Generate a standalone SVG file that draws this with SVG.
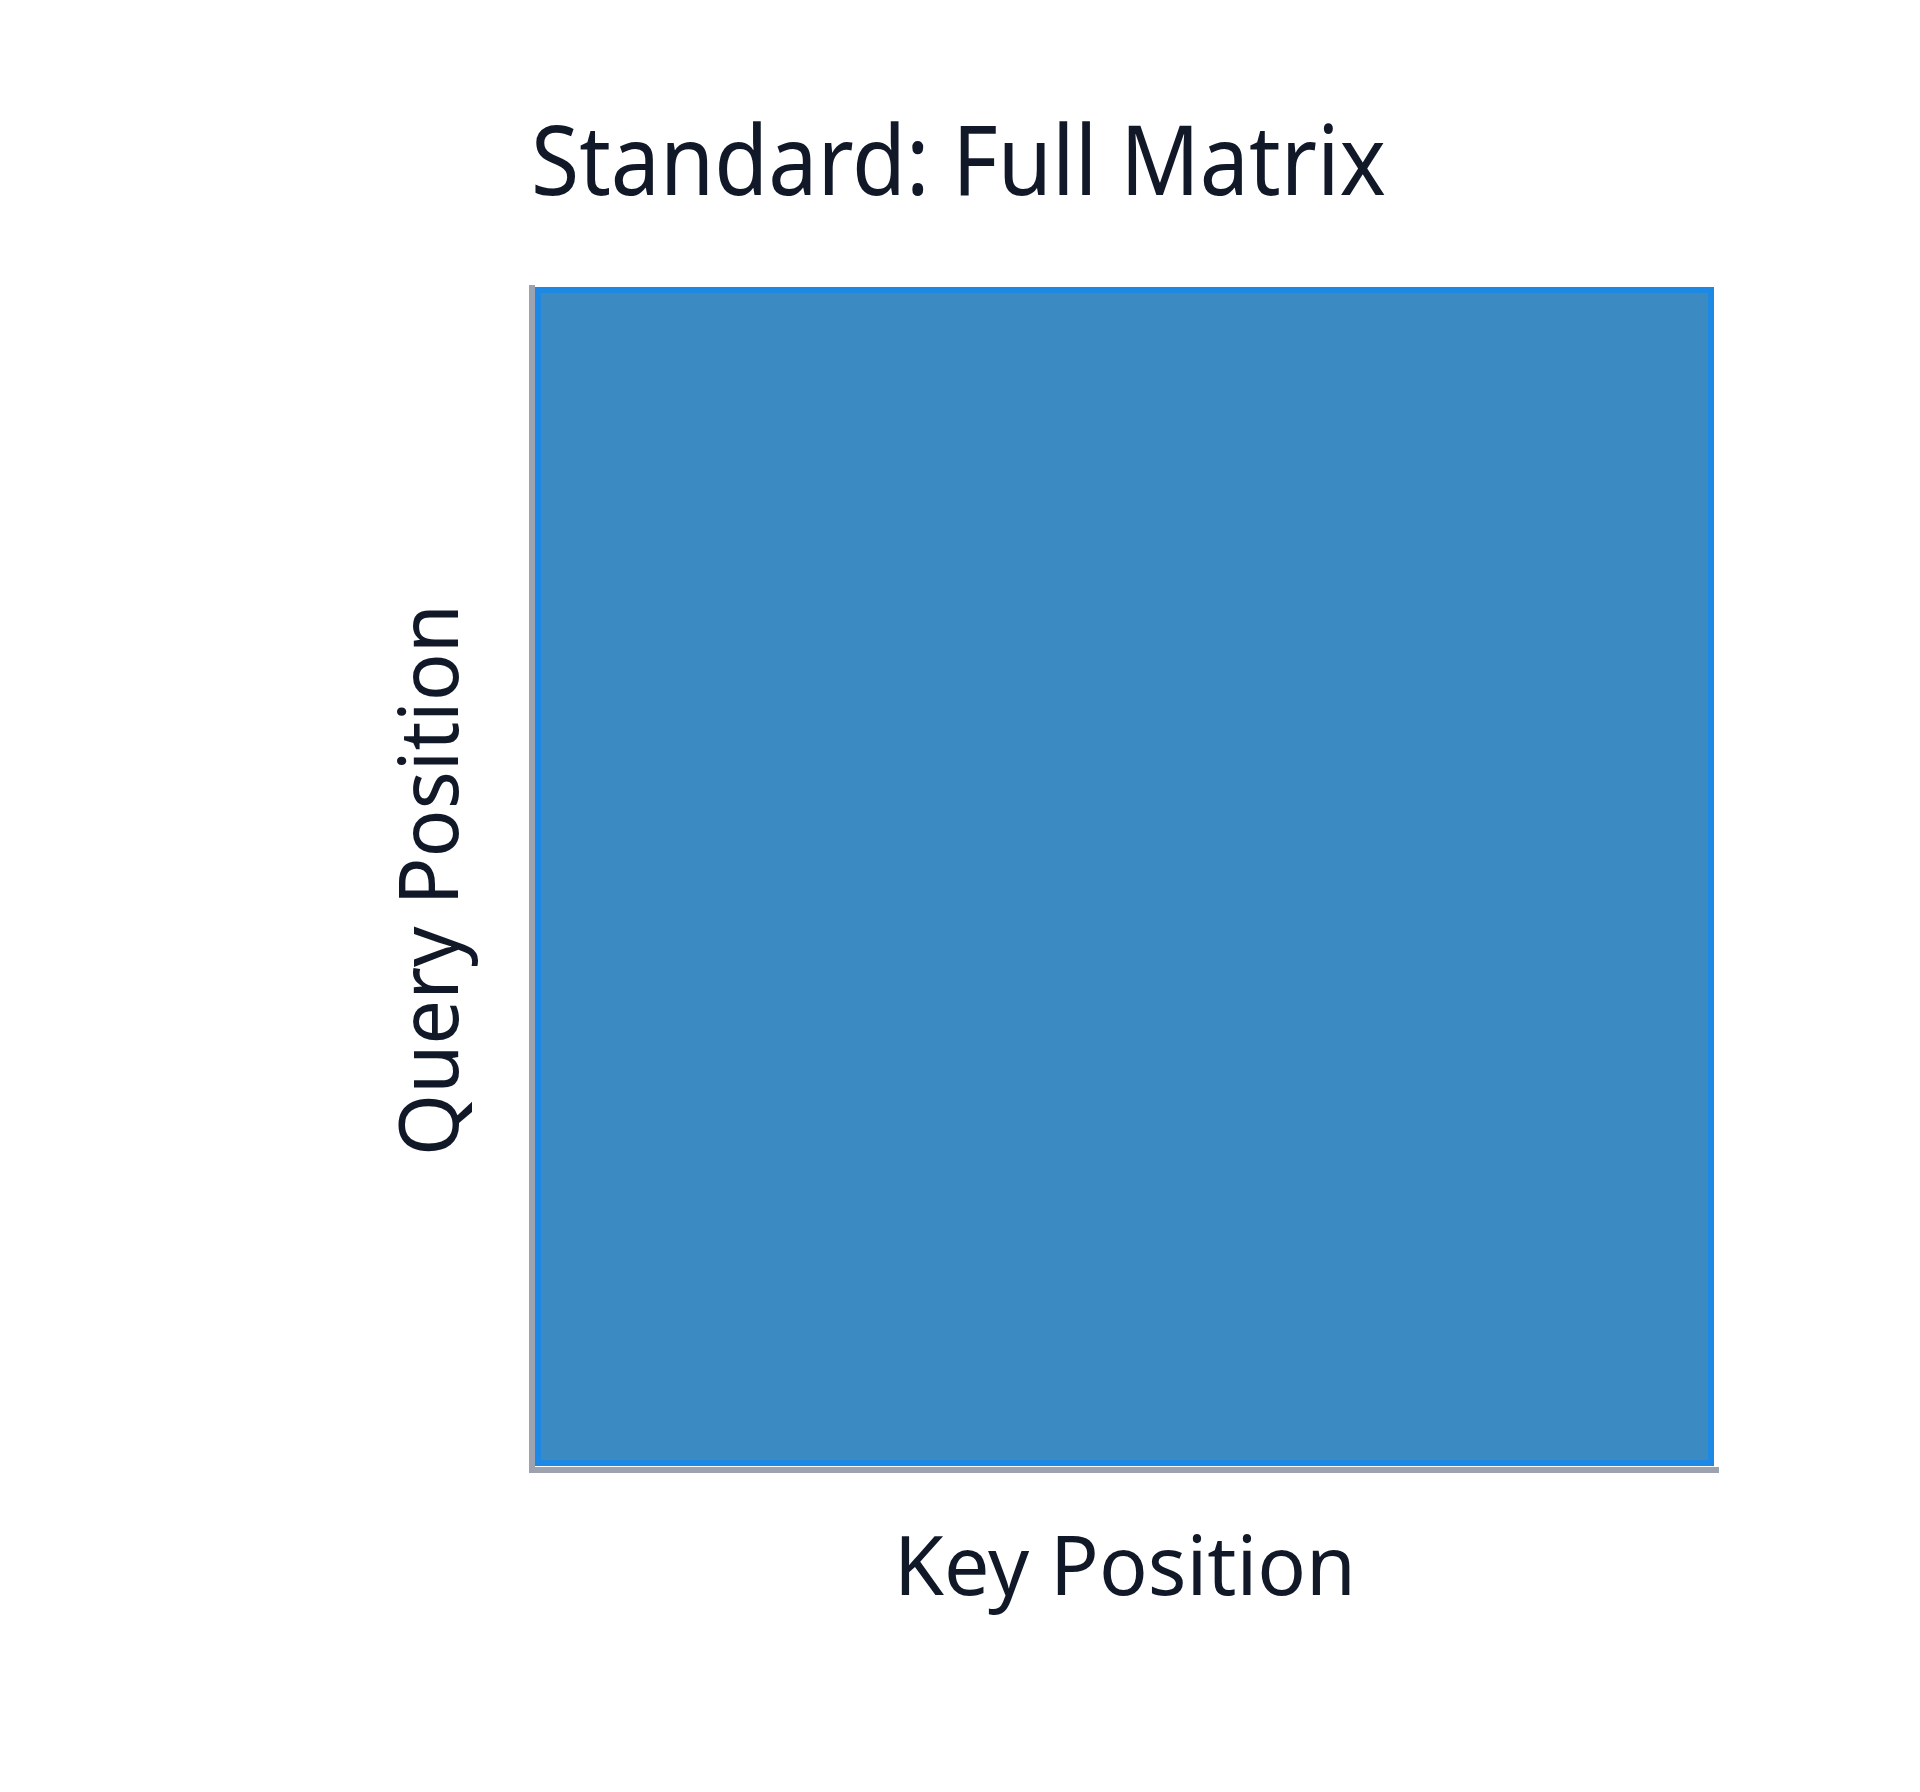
<svg xmlns="http://www.w3.org/2000/svg" width="1920" height="1792" viewBox="0 0 1920 1792">
<style>
.t{font-family:"Noto Sans","Open Sans","Liberation Sans",sans-serif;fill:#111827}
</style>
<rect width="1920" height="1792" fill="#ffffff"/>
<g id="title"><text class="t" x="531" y="195" font-size="96" textLength="855" lengthAdjust="spacingAndGlyphs">Standard: Full Matrix</text></g>
<g id="matrix">
<rect x="538" y="290" width="1173" height="1173" fill="#3b8ac2" stroke="#1e88e5" stroke-width="6"/>
</g>
<g id="axes" stroke="#9ca3af" stroke-width="6" fill="none">
<line x1="532" y1="285" x2="532" y2="1473"/>
<line x1="529" y1="1470" x2="1719" y2="1470"/>
</g>
<g id="xlabel"><text class="t" x="1125" y="1595" font-size="82" text-anchor="middle" textLength="462" lengthAdjust="spacingAndGlyphs">Key Position</text></g>
<g id="ylabel"><text class="t" transform="translate(458,880) rotate(-90)" font-size="82" text-anchor="middle" textLength="552" lengthAdjust="spacingAndGlyphs">Query Position</text></g>
</svg>
